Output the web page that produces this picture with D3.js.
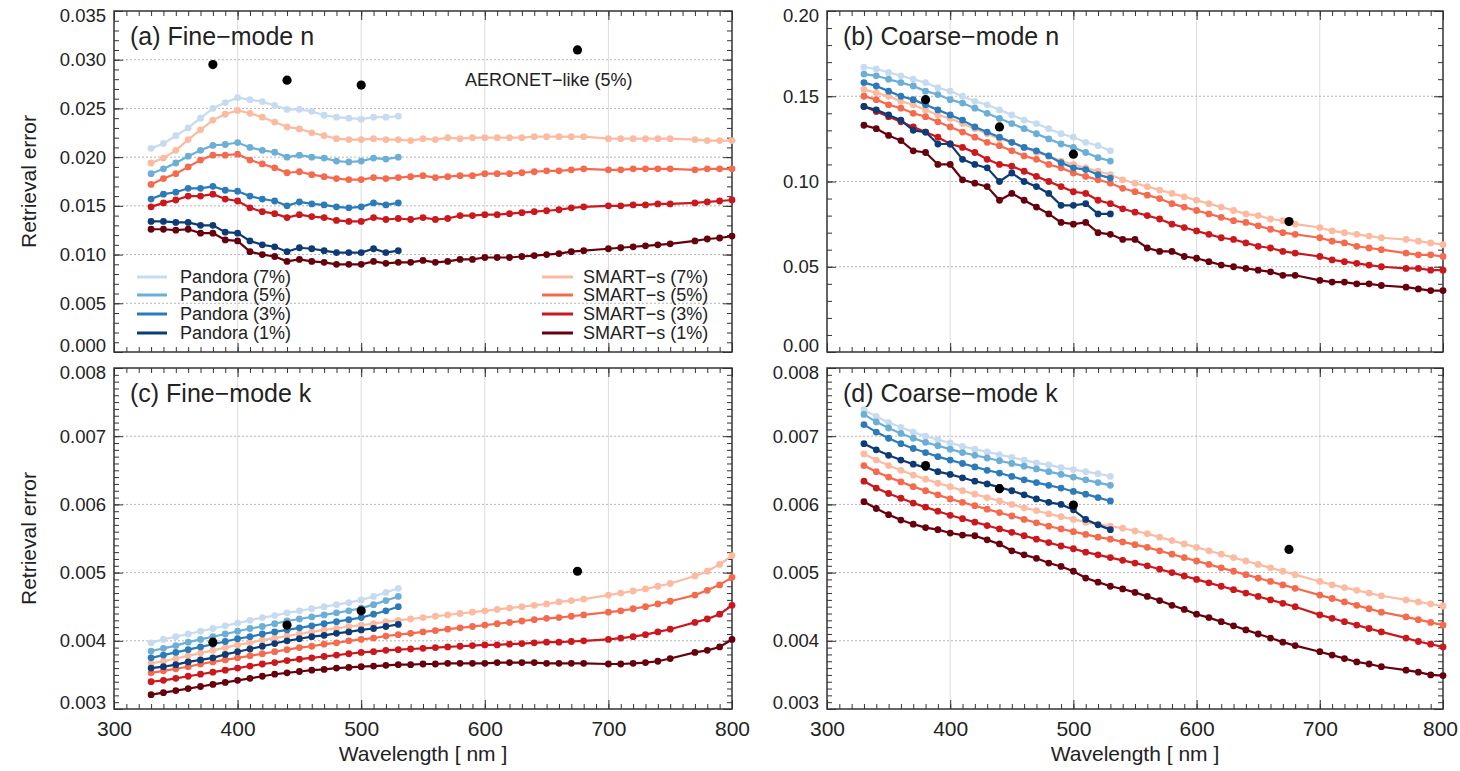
<!DOCTYPE html>
<html>
<head>
<meta charset="utf-8">
<script src="https://cdn.jsdelivr.net/npm/d3@7"></script>
<style>
  body { margin: 0; background: #fff; }
  text { font-family: "Liberation Sans", Arial, Helvetica, sans-serif; fill: #222; }
</style>
</head>
<body>
<div id="chart"></div>
<script>
// wavelengths [nm]
const pandoraWl = [330,340,350,360,370,380,390,400,410,420,430,440,450,460,470,480,490,500,510,520,530];
const smartWl = [330,340,350,360,370,380,390,400,410,420,430,440,450,460,470,480,490,500,510,520,530,
  540,550,560,570,580,590,600,610,620,630,640,650,660,670,680,700,710,720,730,740,750,770,780,790,800];
const aeronetWl = [380, 440, 500, 675];

const noiseLabels = ['7%', '5%', '3%', '1%'];
const pandoraColors = ['#c6dbef', '#6baed6', '#2b7bba', '#0d3b76'];
const smartColors = ['#fcbba1', '#f56a4d', '#cb181d', '#67000d'];

// (a) fine-mode n
const aPandora7 = [.0209,.0214,.0222,.0230,.0240,.0250,.0256,.0261,.0259,.0257,.0253,.0249,.0249,.0247,.0243,.0241,.0240,.0239,.0241,.0241,.0242];
const aPandora5 = [.0183,.0188,.0194,.0201,.0207,.0212,.0213,.0215,.0210,.0207,.0205,.0200,.0202,.0200,.0199,.0196,.0195,.0196,.0199,.0198,.0200];
const aPandora3 = [.0157,.0162,.0164,.0168,.0168,.0170,.0166,.0165,.0160,.0157,.0155,.0150,.0154,.0152,.0151,.0149,.0148,.0149,.0153,.0151,.0153];
const aPandora1 = [.0134,.0134,.0133,.0133,.0130,.0130,.0123,.0122,.0114,.0110,.0108,.0103,.0107,.0106,.0104,.0102,.0102,.0102,.0106,.0102,.0104];
const aSmart7 = [.0194,.0199,.0207,.0218,.0228,.0238,.0244,.0248,.0245,.0241,.0236,.0231,.0229,.0225,.0222,.0219,.0218,.0218,.0219,.0218,.0218,
  .0217,.0219,.0218,.0220,.0219,.0220,.0220,.0220,.0220,.0220,.0221,.0221,.0221,.0221,.0221,.0219,.0219,.0219,.0219,.0219,.0219,.0218,.0217,.0217,.0217];
const aSmart5 = [.0172,.0178,.0183,.0190,.0197,.0202,.0202,.0203,.0197,.0193,.0189,.0184,.0185,.0182,.0180,.0178,.0177,.0177,.0179,.0178,.0179,
  .0180,.0181,.0179,.0180,.0181,.0181,.0183,.0183,.0183,.0184,.0185,.0186,.0186,.0187,.0188,.0187,.0187,.0188,.0188,.0188,.0188,.0187,.0188,.0188,.0188];
const aSmart3 = [.0149,.0153,.0156,.0160,.0160,.0162,.0157,.0155,.0148,.0144,.0142,.0138,.0141,.0139,.0138,.0135,.0134,.0134,.0138,.0136,.0137,
  .0136,.0138,.0136,.0137,.0140,.0140,.0141,.0141,.0142,.0143,.0144,.0145,.0146,.0148,.0149,.0150,.0150,.0151,.0151,.0152,.0152,.0153,.0154,.0155,.0156];
const aSmart1 = [.0126,.0126,.0125,.0126,.0122,.0122,.0115,.0114,.0103,.0100,.0098,.0093,.0095,.0093,.0092,.0090,.0090,.0090,.0093,.0091,.0092,
  .0092,.0094,.0092,.0093,.0095,.0095,.0097,.0097,.0097,.0098,.0099,.0100,.0101,.0103,.0104,.0106,.0107,.0108,.0109,.0110,.0111,.0114,.0116,.0117,.0119];
const aAeronet = [.0295, .0279, .0274, .0310];

// (b) coarse-mode n
const bPandora7 = [.167,.166,.164,.162,.160,.158,.155,.153,.150,.147,.145,.142,.139,.136,.134,.131,.128,.126,.123,.121,.118];
const bPandora5 = [.163,.162,.160,.158,.156,.153,.151,.148,.146,.143,.140,.137,.134,.131,.128,.125,.122,.120,.117,.114,.112];
const bPandora3 = [.158,.156,.153,.150,.148,.145,.142,.139,.136,.132,.129,.126,.123,.120,.118,.115,.111,.108,.107,.104,.102];
const bPandora1 = [.144,.142,.139,.136,.130,.129,.122,.122,.113,.110,.108,.100,.105,.100,.097,.093,.086,.086,.087,.081,.081];
const bSmart7 = [.154,.152,.150,.147,.145,.142,.139,.137,.134,.131,.128,.125,.123,.120,.117,.115,.112,.110,.108,.106,.104,
  .101,.099,.097,.095,.093,.091,.089,.087,.085,.083,.081,.080,.078,.077,.075,.073,.071,.070,.069,.068,.067,.066,.065,.064,.063];
const bSmart5 = [.150,.148,.145,.143,.140,.138,.135,.132,.129,.126,.123,.121,.118,.115,.113,.110,.108,.105,.103,.101,.099,
  .096,.094,.092,.090,.087,.085,.083,.081,.079,.077,.076,.074,.072,.070,.069,.067,.065,.064,.062,.061,.060,.058,.057,.057,.056];
const bSmart3 = [.144,.141,.138,.135,.132,.129,.126,.122,.120,.117,.113,.110,.109,.106,.103,.100,.097,.094,.093,.089,.087,
  .084,.082,.080,.078,.075,.073,.071,.069,.067,.066,.064,.062,.061,.059,.058,.056,.054,.053,.052,.051,.050,.049,.049,.048,.048];
const bSmart1 = [.133,.131,.127,.124,.118,.117,.110,.110,.101,.099,.097,.089,.093,.089,.085,.081,.076,.075,.076,.070,.069,
  .066,.066,.061,.059,.059,.056,.055,.053,.051,.050,.049,.048,.047,.045,.045,.042,.041,.041,.040,.040,.039,.038,.037,.036,.036];
const bAeronet = [.148, .132, .116, .0765];

// (c) fine-mode k
const cPandora7 = [.00397,.00402,.00406,.00410,.00414,.00418,.00422,.00426,.00430,.00434,.00437,.00441,.00444,.00447,.00450,.00453,.00456,.00460,.00465,.00471,.00477];
const cPandora5 = [.00385,.00389,.00393,.00398,.00402,.00406,.00410,.00414,.00418,.00421,.00425,.00429,.00432,.00435,.00438,.00441,.00444,.00448,.00453,.00459,.00465];
const cPandora3 = [.00375,.00379,.00383,.00387,.00391,.00395,.00399,.00403,.00406,.00410,.00413,.00416,.00419,.00422,.00425,.00428,.00431,.00434,.00439,.00444,.00450];
const cPandora1 = [.00360,.00362,.00365,.00369,.00372,.00375,.00380,.00384,.00388,.00392,.00396,.00400,.00403,.00406,.00408,.00411,.00413,.00416,.00418,.00421,.00424];
const cSmart7 = [.00367,.00370,.00374,.00378,.00382,.00386,.00390,.00394,.00397,.00401,.00404,.00407,.00410,.00413,.00416,.00418,.00421,.00423,.00425,.00428,.00430,
  .00432,.00434,.00436,.00438,.00440,.00442,.00444,.00446,.00448,.00450,.00452,.00454,.00457,.00459,.00461,.00467,.00470,.00473,.00476,.00480,.00484,.00495,.00502,.00512,.00525];
const cSmart5 = [.00353,.00356,.00359,.00362,.00366,.00369,.00372,.00375,.00378,.00381,.00384,.00387,.00390,.00392,.00395,.00397,.00400,.00402,.00404,.00407,.00409,
  .00411,.00413,.00415,.00417,.00419,.00421,.00423,.00425,.00427,.00429,.00431,.00433,.00434,.00436,.00438,.00442,.00444,.00447,.00450,.00454,.00458,.00467,.00474,.00482,.00493];
const cSmart3 = [.00340,.00342,.00345,.00348,.00351,.00354,.00357,.00360,.00363,.00366,.00368,.00371,.00373,.00375,.00377,.00379,.00381,.00383,.00384,.00386,.00387,
  .00388,.00389,.00390,.00391,.00392,.00393,.00394,.00394,.00395,.00396,.00397,.00398,.00398,.00399,.00400,.00402,.00404,.00406,.00409,.00413,.00417,.00427,.00432,.00439,.00452];
const cSmart1 = [.00321,.00324,.00327,.00330,.00333,.00336,.00339,.00342,.00345,.00348,.00351,.00353,.00355,.00357,.00358,.00360,.00361,.00362,.00363,.00364,.00365,
  .00365,.00366,.00366,.00367,.00367,.00367,.00367,.00368,.00368,.00368,.00368,.00367,.00367,.00367,.00367,.00366,.00366,.00367,.00368,.00370,.00374,.00383,.00386,.00391,.00402];
const cAeronet = [.00398, .00423, .00444, .00502];

// (d) coarse-mode k
const dPandora7 = [.00739,.00729,.00720,.00713,.00706,.00700,.00695,.00690,.00685,.00681,.00677,.00673,.00669,.00665,.00661,.00658,.00654,.00651,.00648,.00645,.00641];
const dPandora5 = [.00732,.00721,.00712,.00704,.00697,.00691,.00686,.00681,.00676,.00672,.00668,.00664,.00660,.00656,.00652,.00648,.00644,.00640,.00636,.00632,.00628];
const dPandora3 = [.00717,.00706,.00697,.00689,.00682,.00676,.00670,.00665,.00660,.00655,.00650,.00646,.00641,.00636,.00632,.00628,.00624,.00619,.00615,.00610,.00605];
const dPandora1 = [.00689,.00680,.00672,.00665,.00659,.00654,.00648,.00644,.00639,.00634,.00630,.00625,.00620,.00614,.00608,.00603,.00600,.00592,.00578,.00570,.00563];
const dSmart7 = [.00674,.00665,.00657,.00650,.00643,.00637,.00631,.00626,.00620,.00615,.00610,.00605,.00600,.00595,.00591,.00586,.00582,.00578,.00574,.00571,.00568,
  .00565,.00561,.00557,.00552,.00547,.00542,.00537,.00532,.00527,.00522,.00517,.00512,.00507,.00502,.00497,.00487,.00482,.00478,.00474,.00470,.00466,.00460,.00457,.00454,.00451];
const dSmart5 = [.00657,.00648,.00640,.00633,.00626,.00620,.00614,.00608,.00603,.00598,.00593,.00588,.00583,.00578,.00573,.00568,.00564,.00560,.00556,.00552,.00549,
  .00545,.00541,.00537,.00532,.00527,.00522,.00517,.00512,.00507,.00502,.00497,.00492,.00487,.00482,.00477,.00467,.00462,.00457,.00452,.00447,.00442,.00435,.00431,.00427,.00423];
const dSmart3 = [.00634,.00624,.00616,.00609,.00602,.00596,.00590,.00584,.00579,.00574,.00569,.00564,.00559,.00554,.00549,.00544,.00539,.00535,.00530,.00526,.00522,
  .00518,.00514,.00510,.00505,.00500,.00495,.00490,.00485,.00480,.00475,.00470,.00465,.00460,.00455,.00450,.00438,.00433,.00428,.00423,.00418,.00413,.00404,.00399,.00395,.00391];
const dSmart1 = [.00604,.00594,.00585,.00577,.00571,.00566,.00563,.00558,.00555,.00554,.00548,.00542,.00532,.00526,.00521,.00514,.00509,.00502,.00492,.00486,.00480,
  .00476,.00471,.00465,.00459,.00452,.00446,.00439,.00434,.00428,.00422,.00416,.00410,.00404,.00398,.00393,.00384,.00379,.00374,.00369,.00366,.00362,.00357,.00354,.00350,.00349];
const dAeronet = [.00657, .00623, .00599, .00534];

const panels = [
  { title: '(a) Fine\u2212mode n', left: 114, right: 732, top: 11, bottom: 352, yDomain: [0, 0.035], nMajor: 7, nMinor: 35, fmt: '.3f',
    pandora: [aPandora7, aPandora5, aPandora3, aPandora1], smart: [aSmart7, aSmart5, aSmart3, aSmart1], aeronet: aAeronet, yTitle: true, xTitle: false, legend: true },
  { title: '(b) Coarse\u2212mode n', left: 827, right: 1443, top: 11, bottom: 352, yDomain: [0, 0.20], nMajor: 4, nMinor: 20, fmt: '.2f',
    pandora: [bPandora7, bPandora5, bPandora3, bPandora1], smart: [bSmart7, bSmart5, bSmart3, bSmart1], aeronet: bAeronet, yTitle: false, xTitle: false },
  { title: '(c) Fine\u2212mode k', left: 114, right: 732, top: 368, bottom: 709, yDomain: [0.003, 0.008], nMajor: 5, nMinor: 50, fmt: '.3f',
    pandora: [cPandora7, cPandora5, cPandora3, cPandora1], smart: [cSmart7, cSmart5, cSmart3, cSmart1], aeronet: cAeronet, yTitle: true, xTitle: true },
  { title: '(d) Coarse\u2212mode k', left: 827, right: 1443, top: 368, bottom: 709, yDomain: [0.003, 0.008], nMajor: 5, nMinor: 50, fmt: '.3f',
    pandora: [dPandora7, dPandora5, dPandora3, dPandora1], smart: [dSmart7, dSmart5, dSmart3, dSmart1], aeronet: dAeronet, yTitle: false, xTitle: true }
];

const svg = d3.select('#chart').append('svg')
  .attr('width', 1460)
  .attr('height', 771);

svg.append('rect').attr('width', 1460).attr('height', 771).attr('fill', '#fff');

function styleAxis(g) {
  g.select('.domain').remove();
  g.selectAll('.tick line').attr('stroke', '#333').attr('stroke-width', 1);
}

function drawPanel(p) {
  const x = d3.scaleLinear().domain([300, 800]).range([p.left, p.right]);
  const y = d3.scaleLinear().domain(p.yDomain).range([p.bottom, p.top]);
  const g = svg.append('g');

  const yMajor = y.ticks(p.nMajor);
  const yMinor = y.ticks(p.nMinor);
  const xMajor = x.ticks(5);
  const xMinor = x.ticks(50);

  // grid
  g.selectAll('.vgrid')
    .data(xMajor.slice(1, -1))
    .enter().append('line')
    .attr('x1', d => x(d)).attr('x2', d => x(d))
    .attr('y1', p.top).attr('y2', p.bottom)
    .attr('stroke', '#dcdcdc').attr('stroke-width', 1);
  g.selectAll('.hgrid')
    .data(yMajor.slice(1, -1))
    .enter().append('line')
    .attr('x1', p.left).attr('x2', p.right)
    .attr('y1', d => y(d)).attr('y2', d => y(d))
    .attr('stroke', '#b5b5b5').attr('stroke-width', 1).attr('stroke-dasharray', '2,2');

  // minor ticks on all sides
  g.append('g').attr('transform', `translate(${p.left},0)`)
    .call(d3.axisLeft(y).tickValues(yMinor).tickSize(-5).tickFormat('')).call(styleAxis);
  g.append('g').attr('transform', `translate(${p.right},0)`)
    .call(d3.axisRight(y).tickValues(yMinor).tickSize(-5).tickFormat('')).call(styleAxis);
  g.append('g').attr('transform', `translate(0,${p.bottom})`)
    .call(d3.axisBottom(x).tickValues(xMinor).tickSize(-5).tickFormat('')).call(styleAxis);
  g.append('g').attr('transform', `translate(0,${p.top})`)
    .call(d3.axisTop(x).tickValues(xMinor).tickSize(-5).tickFormat('')).call(styleAxis);

  // major ticks
  const yAxis = g.append('g').attr('transform', `translate(${p.left},0)`)
    .call(d3.axisLeft(y).tickValues(yMajor).tickSize(-9).tickPadding(8).tickFormat(d3.format(p.fmt)))
    .call(styleAxis);
  yAxis.selectAll('text')
    .attr('font-size', '18.5px')
    .attr('fill', '#222')
    .attr('y', (d, i) => i === 0 ? -6 : (i === yMajor.length - 1 ? 5 : 0));
  g.append('g').attr('transform', `translate(${p.right},0)`)
    .call(d3.axisRight(y).tickValues(yMajor).tickSize(-9).tickFormat('')).call(styleAxis);
  const xAxis = g.append('g').attr('transform', `translate(0,${p.bottom})`)
    .call(d3.axisBottom(x).tickValues(xMajor).tickSize(-9).tickPadding(12)
      .tickFormat(p.xTitle ? d3.format('d') : ''))
    .call(styleAxis);
  xAxis.selectAll('text')
    .attr('font-size', '21px')
    .attr('fill', '#222')
    .attr('x', (d, i) => i === xMajor.length - 1 && p.right > 1400 ? -3 : 0);
  g.append('g').attr('transform', `translate(0,${p.top})`)
    .call(d3.axisTop(x).tickValues(xMajor).tickSize(-9).tickFormat('')).call(styleAxis);

  // frame
  g.append('rect')
    .attr('x', p.left).attr('y', p.top)
    .attr('width', p.right - p.left).attr('height', p.bottom - p.top)
    .attr('fill', 'none').attr('stroke', '#333').attr('stroke-width', 1.5);

  // series
  const series = [];
  p.smart.forEach((vals, i) => series.push({ wl: smartWl, vals: vals, color: smartColors[i] }));
  p.pandora.forEach((vals, i) => series.push({ wl: pandoraWl, vals: vals, color: pandoraColors[i] }));

  series.forEach((s) => {
    const line = d3.line()
      .x((d, i) => x(s.wl[i]))
      .y(d => y(d));
    g.append('path')
      .datum(s.vals)
      .attr('d', line)
      .attr('fill', 'none')
      .attr('stroke', s.color)
      .attr('stroke-width', 2.2);
    g.append('g').selectAll('circle')
      .data(s.vals)
      .enter().append('circle')
      .attr('cx', (d, i) => x(s.wl[i]))
      .attr('cy', d => y(d))
      .attr('r', 3.4)
      .attr('fill', s.color);
  });

  g.append('g').selectAll('circle')
    .data(p.aeronet)
    .enter().append('circle')
    .attr('cx', (d, i) => x(aeronetWl[i]))
    .attr('cy', d => y(d))
    .attr('r', 4.6)
    .attr('fill', '#000');

  // titles
  g.append('text')
    .attr('x', p.left + 16)
    .attr('y', p.top + 34)
    .attr('font-size', '25px')
    .attr('fill', '#111')
    .text(p.title);

  if (p.yTitle) {
    g.append('text')
      .attr('transform', `translate(36,${(p.top + p.bottom) / 2}) rotate(-90)`)
      .attr('text-anchor', 'middle')
      .attr('font-size', '21px')
      .text('Retrieval error');
  }
  if (p.xTitle) {
    g.append('text')
      .attr('x', (p.left + p.right) / 2)
      .attr('y', 761)
      .attr('text-anchor', 'middle')
      .attr('font-size', '21px')
      .text('Wavelength [ nm ]');
  }

  if (p.legend) {
    g.append('text')
      .attr('x', 465)
      .attr('y', p.top + 75)
      .attr('font-size', '18px')
      .text('AERONET\u2212like (5%)');

    const rowY = [277, 295, 314, 333];
    const legendRows = [];
    noiseLabels.forEach((lab, i) => {
      legendRows.push({ x1: 137, x2: 167, tx: 180, y: rowY[i], color: pandoraColors[i], text: 'Pandora (' + lab + ')' });
      legendRows.push({ x1: 542, x2: 573, tx: 583, y: rowY[i], color: smartColors[i], text: 'SMART\u2212s (' + lab + ')' });
    });
    const lg = g.append('g');
    lg.selectAll('line')
      .data(legendRows)
      .enter().append('line')
      .attr('x1', r => r.x1).attr('x2', r => r.x2)
      .attr('y1', r => r.y).attr('y2', r => r.y)
      .attr('stroke', r => r.color)
      .attr('stroke-width', 3);
    lg.selectAll('text')
      .data(legendRows)
      .enter().append('text')
      .attr('x', r => r.tx)
      .attr('y', r => r.y + 6)
      .attr('font-size', '18px')
      .text(r => r.text);
  }
}

panels.forEach(drawPanel);
</script>
</body>
</html>
